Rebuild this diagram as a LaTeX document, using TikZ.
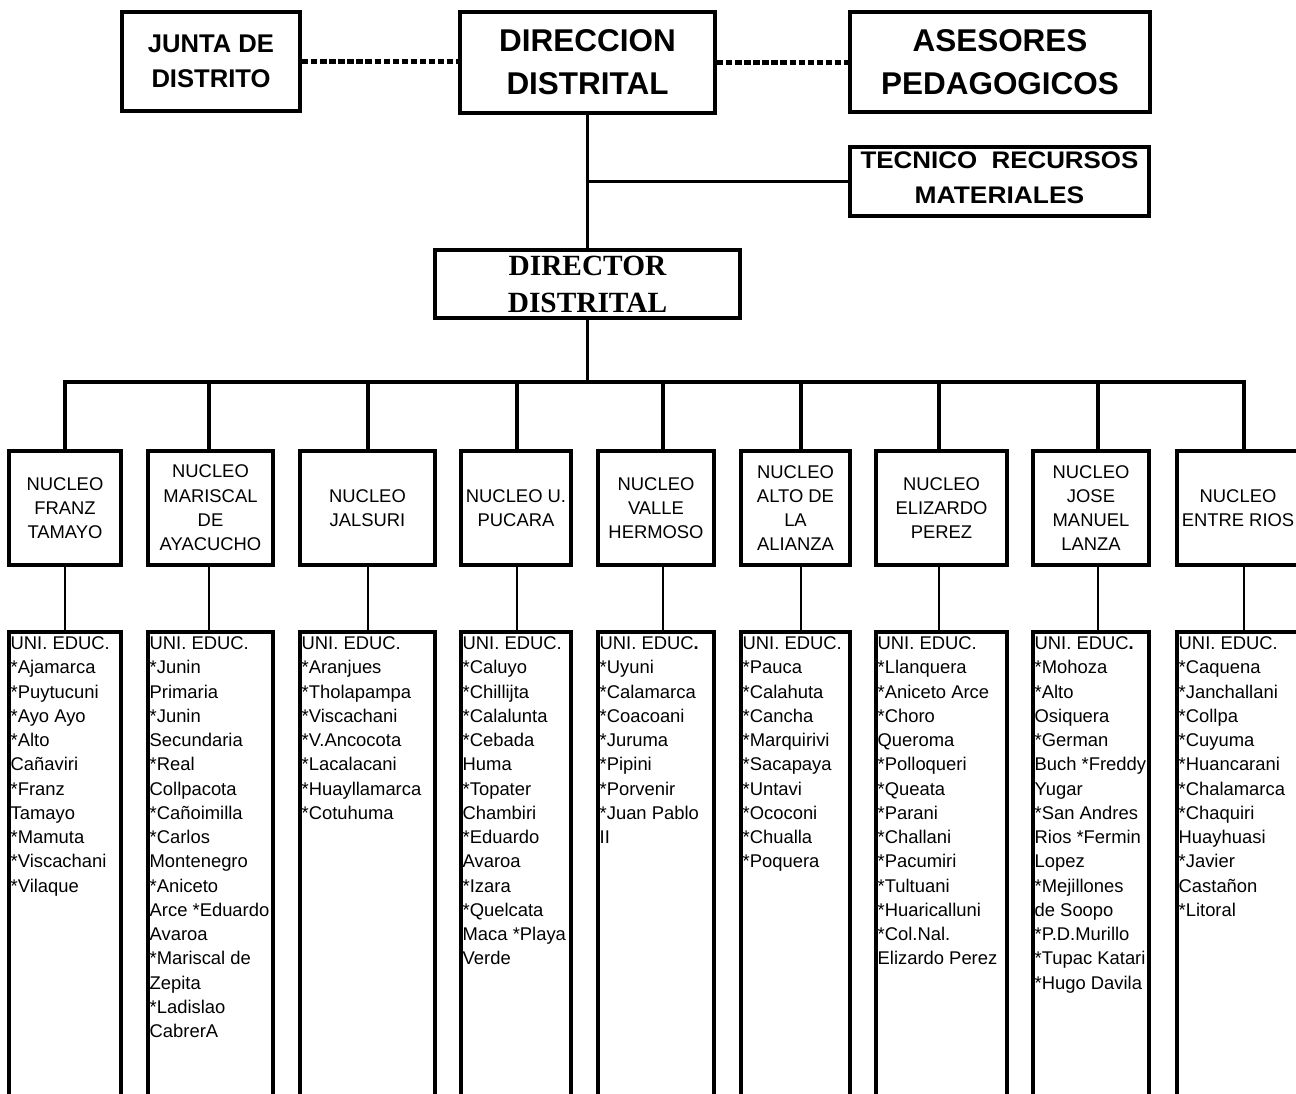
\documentclass[tikz,border=0pt]{standalone}
\usepackage{fontspec}
\usepackage{graphicx}
\setmainfont{Liberation Sans}
\newfontfamily\timesfam{Liberation Serif}
\newdimen\px \px=0.75pt
\tikzset{
  boxline/.style={draw, line width=3.3pt, inner sep=0pt, align=center},
  topbig/.style={boxline, font=\bfseries\fontsize{23.6pt}{32.25pt}\selectfont},
  topmid/.style={boxline, font=\bfseries\fontsize{19.2pt}{26.25pt}\selectfont},
  tecbox/.style={boxline, font=\bfseries\fontsize{18pt}{26.25pt}\selectfont},
  dirbox/.style={boxline, font=\timesfam\bfseries\fontsize{22pt}{27.75pt}\selectfont},
  nucbox/.style={boxline, minimum height=113.6\px, font=\fontsize{13.8pt}{18.2pt}\selectfont},
  unibox/.style={draw, line width=3.3pt, inner sep=0pt, minimum height=520\px},
  listtext/.style={anchor=north west, inner sep=0pt, align=left, font=\fontsize{13.8pt}{18.2pt}\selectfont},
  conn/.style={line width=2.6pt},
  thinconn/.style={line width=0.8pt},
  dotline/.style={line width=3.2pt, dash pattern=on 4.8pt off 2pt}
}
\begin{document}
\begin{tikzpicture}[x=0.75pt,y=-0.75pt]
\clip (0,0) rectangle (1296,1094);
\fill[white] (0,0) rectangle (1296,1094);

% top row
\node[topmid, minimum width=177.6\px, minimum height=98.6\px] (junta) at (211,61.5) {JUNTA DE\\DISTRITO};
\node[topbig, minimum width=254.6\px, minimum height=100.6\px] (dir) at (587.5,62.5) {DIRECCION\\DISTRITAL};
\node[topbig, minimum width=299.6\px, minimum height=99.6\px] (ases) at (1000,62) {ASESORES\\PEDAGOGICOS};
\node[tecbox, minimum width=298.6\px, minimum height=68.6\px] (tec) at (999.5,181.5) {\scalebox{1.08}[1]{TECNICO\hspace{10pt}RECURSOS}\\\scalebox{1.1}[1]{MATERIALES}\rule[-8\px]{0pt}{0pt}};
\node[dirbox, minimum width=304.6\px, minimum height=67.6\px] (director) at (587.5,284) {DIRECTOR\\DISTRITAL};

\draw[dotline] (junta.east) -- (junta.east -| dir.west);
\draw[dotline] (dir.east) -- (dir.east -| ases.west);
\draw[conn] (dir.south) -- (director.north);
\draw[conn] (dir.south |- tec.west) -- (tec.west);

% nucleo boxes
\node[nucbox, minimum width=111.6\px] (n1) at (65,508) {NUCLEO\\FRANZ\\TAMAYO};
\node[nucbox, minimum width=124.6\px] (n2) at (210.5,508) {NUCLEO\\MARISCAL\\DE\\AYACUCHO};
\node[nucbox, minimum width=134.6\px] (n3) at (367.5,508) {NUCLEO\\JALSURI};
\node[nucbox, minimum width=109.6\px] (n4) at (516,508) {NUCLEO U.\\PUCARA};
\node[nucbox, minimum width=115.6\px] (n5) at (656,508) {NUCLEO\\VALLE\\HERMOSO};
\node[nucbox, minimum width=108.6\px] (n6) at (795.5,508) {NUCLEO\\ALTO DE\\LA\\ALIANZA};
\node[nucbox, minimum width=130.6\px] (n7) at (941.5,508) {NUCLEO\\ELIZARDO\\PEREZ};
\node[nucbox, minimum width=115.6\px] (n8) at (1091,508) {NUCLEO\\JOSE\\MANUEL\\LANZA};
\node[nucbox, minimum width=121.6\px] (n9) at (1238,508) {NUCLEO\\ENTRE RIOS};

% bus
\coordinate (bus) at (587.5,382);
\coordinate (d1) at (65,382);
\coordinate (d2) at (209,382);
\coordinate (d3) at (368,382);
\coordinate (d4) at (517,382);
\coordinate (d5) at (663,382);
\coordinate (d6) at (801,382);
\coordinate (d7) at (939,382);
\coordinate (d8) at (1098,382);
\coordinate (d9) at (1244,382);
\draw[conn] (director.south) -- (bus);
\draw[conn] (d1 |- n1.north) -- (d1) -- (d9) -- (d9 |- n9.north);
\foreach \i in {2,...,8} {\draw[conn] (d\i) -- (d\i |- n\i.north);}

% uni boxes
\node[unibox, minimum width=111.6\px] (u1) at (65,892) {};
\node[unibox, minimum width=124.6\px] (u2) at (210.5,892) {};
\node[unibox, minimum width=134.6\px] (u3) at (367.5,892) {};
\node[unibox, minimum width=109.6\px] (u4) at (516,892) {};
\node[unibox, minimum width=115.6\px] (u5) at (656,892) {};
\node[unibox, minimum width=108.6\px] (u6) at (795.5,892) {};
\node[unibox, minimum width=130.6\px] (u7) at (941.5,892) {};
\node[unibox, minimum width=115.6\px] (u8) at (1091,892) {};
\node[unibox, minimum width=121.6\px] (u9) at (1238,892) {};

\foreach \i in {1,...,9} {\draw[thinconn] (d\i |- n\i.south) -- (d\i |- u\i.north);}

% lists
\node[listtext] (t1) at ([shift={(3.4,6.6)}]u1.north west) {UNI. EDUC.\\*Ajamarca\\*Puytucuni\\*Ayo Ayo\\*Alto\\Cañaviri\\*Franz\\Tamayo\\*Mamuta\\*Viscachani\\*Vilaque};
\node[listtext] (t2) at ([shift={(3.4,6.6)}]u2.north west) {UNI. EDUC.\\*Junin\\Primaria\\*Junin\\Secundaria\\*Real\\Collpacota\\*Cañoimilla\\*Carlos\\Montenegro\\*Aniceto\\Arce *Eduardo\\Avaroa\\*Mariscal de\\Zepita\\*Ladislao\\CabrerA};
\node[listtext] (t3) at ([shift={(3.4,6.6)}]u3.north west) {UNI. EDUC.\\*Aranjues\\*Tholapampa\\*Viscachani\\*V.Ancocota\\*Lacalacani\\*Huayllamarca\\*Cotuhuma};
\node[listtext] (t4) at ([shift={(3.4,6.6)}]u4.north west) {UNI. EDUC.\\*Caluyo\\*Chillijta\\*Calalunta\\*Cebada\\Huma\\*Topater\\Chambiri\\*Eduardo\\Avaroa\\*Izara\\*Quelcata\\Maca *Playa\\Verde};
\node[listtext] (t5) at ([shift={(3.4,6.6)}]u5.north west) {UNI. EDUC{\bfseries .}\\*Uyuni\\*Calamarca\\*Coacoani\\*Juruma\\*Pipini\\*Porvenir\\*Juan Pablo\\II};
\node[listtext] (t6) at ([shift={(3.4,6.6)}]u6.north west) {UNI. EDUC.\\*Pauca\\*Calahuta\\*Cancha\\*Marquirivi\\*Sacapaya\\*Untavi\\*Ococoni\\*Chualla\\*Poquera};
\node[listtext] (t7) at ([shift={(3.4,6.6)}]u7.north west) {UNI. EDUC.\\*Llanquera\\*Aniceto Arce\\*Choro\\Queroma\\*Polloqueri\\*Queata\\*Parani\\*Challani\\*Pacumiri\\*Tultuani\\*Huaricalluni\\*Col.Nal.\\Elizardo Perez};
\node[listtext] (t8) at ([shift={(3.4,6.6)}]u8.north west) {UNI. EDUC{\bfseries .}\\*Mohoza\\*Alto\\Osiquera\\*German\\Buch *Freddy\\Yugar\\*San Andres\\Rios *Fermin\\Lopez\\*Mejillones\\de Soopo\\*P.D.Murillo\\*Tupac Katari\\*Hugo Davila};
\node[listtext] (t9) at ([shift={(3.4,6.6)}]u9.north west) {UNI. EDUC.\\*Caquena\\*Janchallani\\*Collpa\\*Cuyuma\\*Huancarani\\*Chalamarca\\*Chaquiri\\Huayhuasi\\*Javier\\Castañon\\*Litoral};
\end{tikzpicture}
\end{document}
